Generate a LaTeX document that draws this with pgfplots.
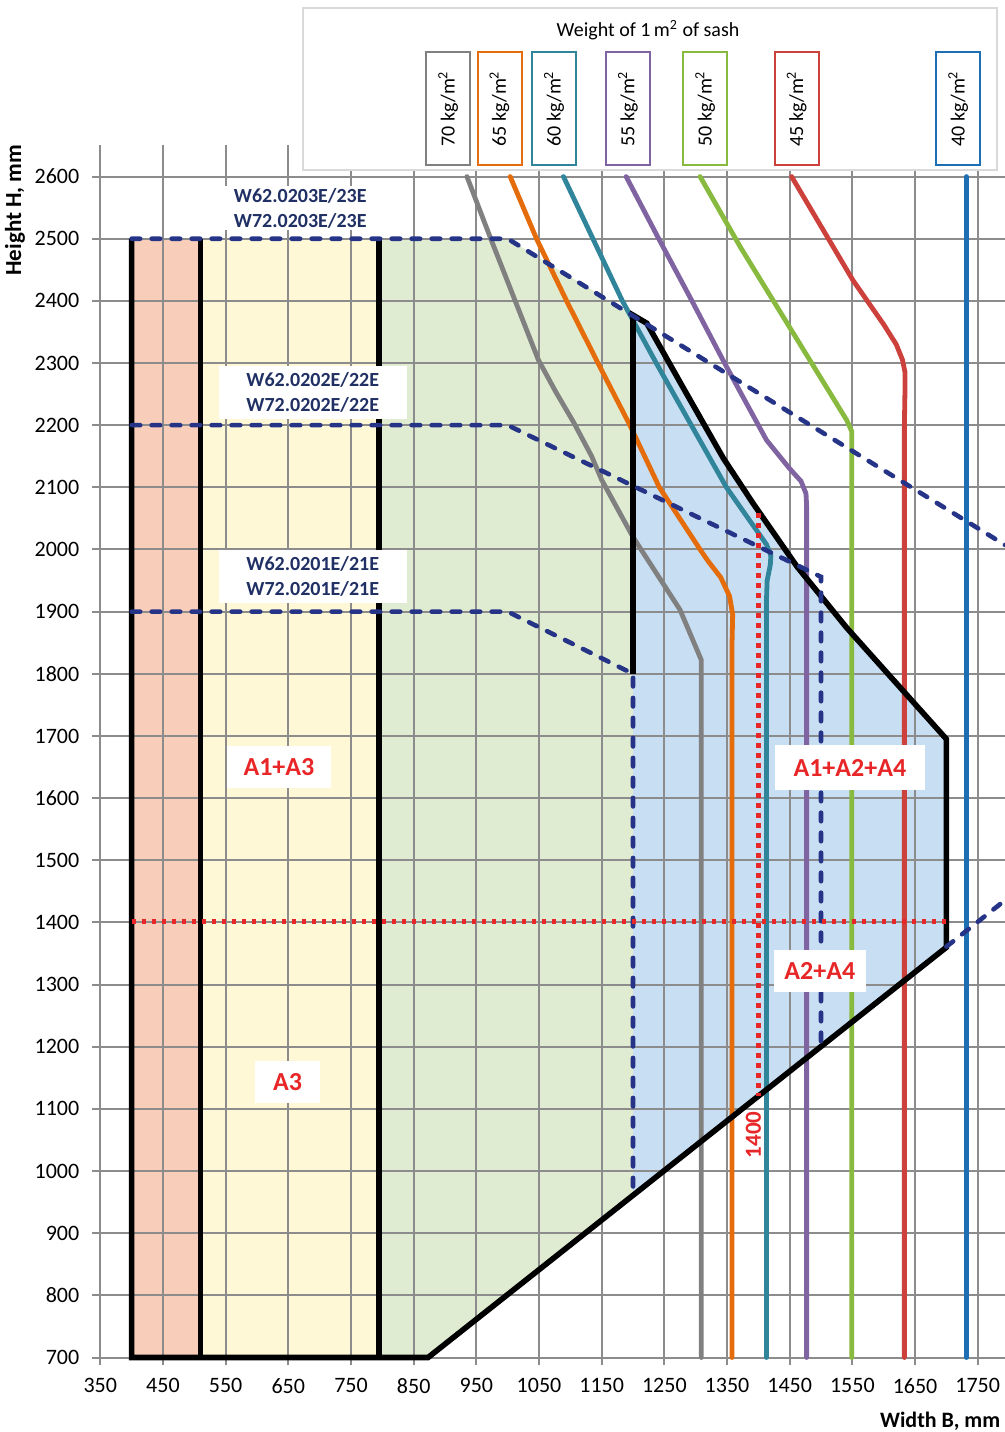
\documentclass[border=0pt]{standalone}
\usepackage{pgfplots}
\pgfplotsset{compat=1.18}
\usepackage{fontspec}
\setmainfont{Carlito}
\definecolor{gridc}{RGB}{140,140,140}
\definecolor{salmonf}{RGB}{248,205,185}
\definecolor{yellowf}{RGB}{255,248,214}
\definecolor{greenf}{RGB}{224,236,210}
\definecolor{bluef}{RGB}{200,222,243}
\definecolor{c70}{RGB}{128,128,128}
\definecolor{c65}{RGB}{228,108,10}
\definecolor{c60}{RGB}{49,133,155}
\definecolor{c55}{RGB}{128,100,162}
\definecolor{c50}{RGB}{137,186,64}
\definecolor{c45}{RGB}{204,65,60}
\definecolor{c40}{RGB}{30,110,180}
\definecolor{navyd}{RGB}{38,52,136}
\definecolor{navyt}{RGB}{32,48,100}
\definecolor{redd}{RGB}{232,38,40}
\definecolor{boxg}{RGB}{217,217,217}
\begin{document}
\begin{tikzpicture}
\begin{axis}[
  set layers,
  scale only axis, width=452.5pt, height=606pt,
  xmin=350, xmax=1794, ymin=700, ymax=2650,
  xtick={350,450,...,1750}, ytick={700,800,...,2600},
  grid=major, major grid style={gridc, line width=1pt},
  axis line style={draw=none},
  tick style={gridc, line width=1pt},
  tick align=outside, major tick length=4pt,
  xtick pos=left, ytick pos=left,
  clip=false,
  /pgf/number format/1000 sep={},
  /pgf/number format/assume math mode=true,
  ticklabel style={font=\fontsize{11}{13}\selectfont, text=black},
  xticklabel style={yshift=-3pt},
  yticklabel style={xshift=-3pt},
]
% background fills
\addplot[draw=none, fill=salmonf, on layer=axis background] coordinates {(400,700)(510,700)(510,2500)(400,2500)};
\addplot[draw=none, fill=yellowf, on layer=axis background] coordinates {(510,700)(795,700)(795,2500)(510,2500)};
\addplot[draw=none, fill=greenf, on layer=axis background] coordinates {(795,700)(873,700)(1200,961)(1200,2377)(1000,2500)(795,2500)};
\addplot[draw=none, fill=bluef, on layer=axis background] coordinates {(1200,961)(1200,2377)(1222,2364)(1283,2255)(1344,2147)(1391,2075)(1462,1972)(1541,1874)(1620,1785)(1700,1695)(1700,1360)};

% weight curves
\addplot[c70, line width=2.4pt, line cap=round, line join=round] coordinates {(935,2600)(973,2500)(1012,2400)(1049,2305)(1076,2255)(1105,2205)(1134,2150)(1150,2112)(1200,2020)(1275,1903)(1309,1822)(1309,700)};
\addplot[c65, line width=2.4pt, line cap=round, line join=round] coordinates {(1004,2600)(1046,2500)(1094,2400)(1144,2300)(1195,2200)(1242,2100)(1307,2000)(1320,1981)(1340,1955)(1354,1925)(1359,1895)(1358,1850)(1358,700)};
\addplot[c60, line width=2.4pt, line cap=round, line join=round] coordinates {(1089,2600)(1136,2500)(1183,2400)(1237,2300)(1293,2200)(1349,2100)(1397,2031)(1413,2008)(1420,1990)(1419,1975)(1414,1950)(1413,1920)(1413,700)};
\addplot[c55, line width=2.4pt, line cap=round, line join=round] coordinates {(1189,2600)(1241,2500)(1294,2400)(1346,2300)(1387,2224)(1413,2176)(1450,2130)(1468,2110)(1476,2090)(1477,2070)(1477,700)};
\addplot[c50, line width=2.4pt, line cap=round, line join=round] coordinates {(1307,2600)(1371,2487)(1541,2208)(1549,2190)(1549,700)};
\addplot[c45, line width=2.4pt, line cap=round, line join=round] coordinates {(1453,2600)(1551,2433)(1600,2362)(1620,2330)(1630,2305)(1634,2285)(1634,2260)(1633,2200)(1633,700)};
\addplot[c40, line width=2.4pt, line cap=round, line join=round] coordinates {(1732,2600)(1732,700)};

% black outline
\addplot[black, line width=2.8pt] coordinates {(400,2500)(400,700)(873,700)(1700,1360)(1700,1695)(1620,1785)(1541,1874)(1462,1972)(1391,2075)(1344,2147)(1283,2255)(1222,2364)(1200,2377)(1200,1800)};
\addplot[black, line width=2.8pt] coordinates {(510,700)(510,2500)};
\addplot[black, line width=2.8pt] coordinates {(795,700)(795,2500)};

% dashed profile limits
\addplot[navyd, line width=2.3pt, line cap=round, dash pattern=on 4.3pt off 5.7pt] coordinates {(400,2500)(1000,2500)(1794,2007)};
\addplot[navyd, line width=2.3pt, line cap=round, dash pattern=on 4.3pt off 5.7pt] coordinates {(400,2200)(1000,2200)(1500,1956)(1500,1205)};
\addplot[navyd, line width=2.3pt, line cap=round, dash pattern=on 4.3pt off 5.7pt] coordinates {(400,1900)(1000,1900)(1200,1800)(1200,973)};
\addplot[navyd, line width=2.3pt, line cap=round, dash pattern=on 4.3pt off 5.7pt] coordinates {(1700,1361)(1794,1436)};

% red dotted
\addplot[redd, line width=2.4pt, dash pattern=on 2.4pt off 2.6pt] coordinates {(400,1401)(1700,1401)};
\addplot[redd, line width=2.4pt, dash pattern=on 2.4pt off 2.6pt] coordinates {(1400,2058)(1400,1120)};

% labels
\node[fill=white, align=center, text=navyt, font=\bfseries\fontsize{10}{12.5}\selectfont, inner xsep=8pt, inner ysep=1pt] at (axis cs:669,2549) {W62.0203E/23E\\W72.0203E/23E};
\node[fill=white, align=center, text=navyt, font=\bfseries\fontsize{10}{12.5}\selectfont, minimum width=94pt, minimum height=26.5pt, inner ysep=1pt] at (axis cs:689,2252) {W62.0202E/22E\\W72.0202E/22E};
\node[fill=white, align=center, text=navyt, font=\bfseries\fontsize{10}{12.5}\selectfont, minimum width=94pt, minimum height=26.5pt, inner ysep=1pt] at (axis cs:689,1957) {W62.0201E/21E\\W72.0201E/21E};

\node[fill=white, text=redd, font=\bfseries\fontsize{13}{15}\selectfont, minimum width=52pt, minimum height=20.8pt, inner sep=1pt] at (axis cs:635,1650) {A1+A3};
\node[fill=white, text=redd, font=\bfseries\fontsize{13}{15}\selectfont, minimum width=32.5pt, minimum height=20.8pt, inner sep=1pt] at (axis cs:649,1143) {A3};
\node[fill=white, text=redd, font=\bfseries\fontsize{13}{15}\selectfont, minimum width=75pt, minimum height=22.5pt, inner sep=1pt] at (axis cs:1546,1649) {A1+A2+A4};
\node[fill=white, text=redd, font=\bfseries\fontsize{13}{15}\selectfont, minimum width=46pt, minimum height=20.8pt, inner sep=1pt] at (axis cs:1498,1322) {A2+A4};
\node[rotate=90, text=redd, font=\bfseries\fontsize{11.5}{13}\selectfont] at (axis cs:1392,1058) {1400};

% legend box
\node[draw=boxg, line width=0.75pt, fill=white, minimum width=347pt, minimum height=81pt, inner sep=0pt] at (axis cs:1227,2741) {};
\node[font=\fontsize{10}{12}\selectfont] at (axis cs:1224,2836) {Weight of 1\,m\textsuperscript{2} of sash};
\node[rotate=90, draw=c70, line width=1pt, fill=white, minimum width=56.5pt, minimum height=22pt, inner sep=0pt, font=\fontsize{10}{12}\selectfont] at (axis cs:905,2709) {70 kg/m\textsuperscript{2}};
\node[rotate=90, draw=c65, line width=1pt, fill=white, minimum width=56.5pt, minimum height=22pt, inner sep=0pt, font=\fontsize{10}{12}\selectfont] at (axis cs:987,2709) {65 kg/m\textsuperscript{2}};
\node[rotate=90, draw=c60, line width=1pt, fill=white, minimum width=56.5pt, minimum height=22pt, inner sep=0pt, font=\fontsize{10}{12}\selectfont] at (axis cs:1074,2709) {60 kg/m\textsuperscript{2}};
\node[rotate=90, draw=c55, line width=1pt, fill=white, minimum width=56.5pt, minimum height=22pt, inner sep=0pt, font=\fontsize{10}{12}\selectfont] at (axis cs:1192,2709) {55 kg/m\textsuperscript{2}};
\node[rotate=90, draw=c50, line width=1pt, fill=white, minimum width=56.5pt, minimum height=22pt, inner sep=0pt, font=\fontsize{10}{12}\selectfont] at (axis cs:1315,2709) {50 kg/m\textsuperscript{2}};
\node[rotate=90, draw=c45, line width=1pt, fill=white, minimum width=56.5pt, minimum height=22pt, inner sep=0pt, font=\fontsize{10}{12}\selectfont] at (axis cs:1461,2709) {45 kg/m\textsuperscript{2}};
\node[rotate=90, draw=c40, line width=1pt, fill=white, minimum width=56.5pt, minimum height=22pt, inner sep=0pt, font=\fontsize{10}{12}\selectfont] at (axis cs:1719,2709) {40 kg/m\textsuperscript{2}};

% axis titles
\node[rotate=90, font=\bfseries\fontsize{11.5}{13}\selectfont] at (axis cs:214,2546) {Height H, mm};
\node[font=\bfseries\fontsize{11}{13}\selectfont] at (axis cs:1690,598) {Width B, mm};
\end{axis}
\pgfresetboundingbox
\path[use as bounding box] (-50.15pt,-37.25pt) rectangle (452.35pt,678.75pt);
\end{tikzpicture}
\end{document}
